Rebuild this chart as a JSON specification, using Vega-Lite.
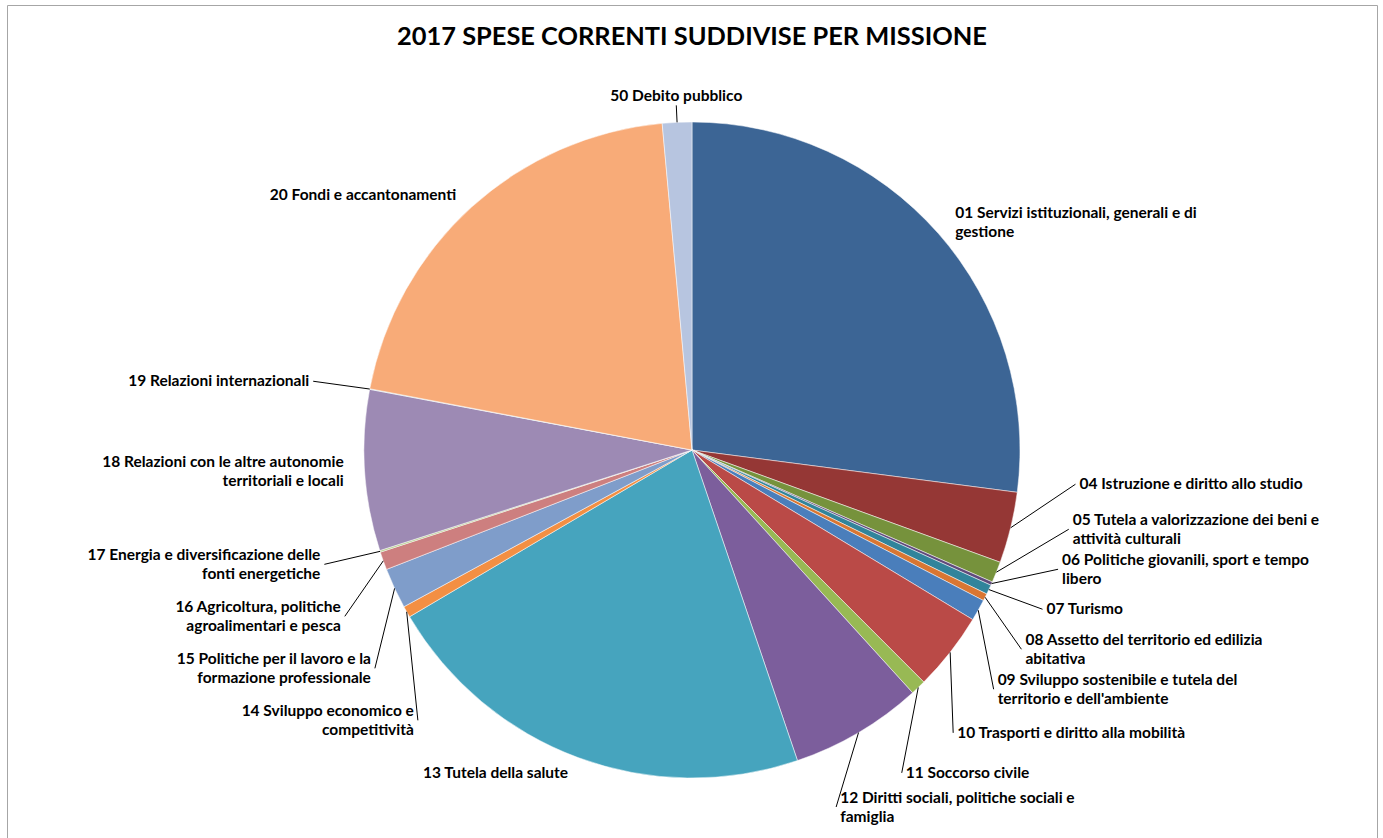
{
  "$schema": "https://vega.github.io/schema/vega-lite/v6.json",
  "width": 1370,
  "height": 890,
  "autosize": "none",
  "padding": {"left": 7, "top": 5, "right": 6, "bottom": 0},
  "background": "white",
  "title": {
    "text": "2017 SPESE CORRENTI SUDDIVISE PER MISSIONE",
    "font": "Lato",
    "fontSize": 25.4,
    "fontWeight": "bold",
    "color": "black",
    "anchor": "middle",
    "frame": "group",
    "baseline": "alphabetic",
    "offset": 0,
    "dy": 65
  },
  "data": {
    "values": [
      {"k": 1, "missione": "01 Servizi istituzionali, generali e di\ngestione", "valore": 27.06},
      {"k": 4, "missione": "04 Istruzione e diritto allo studio", "valore": 3.50},
      {"k": 5, "missione": "05 Tutela a valorizzazione dei beni e\nattività culturali", "valore": 1.03},
      {"k": 6, "missione": "06 Politiche giovanili, sport e tempo\nlibero", "valore": 0.17},
      {"k": 7, "missione": "07 Turismo", "valore": 0.47},
      {"k": 8, "missione": "08 Assetto del territorio ed edilizia\nabitativa", "valore": 0.36},
      {"k": 9, "missione": "09 Sviluppo sostenibile e tutela del\nterritorio e dell'ambiente", "valore": 1.06},
      {"k": 10, "missione": "10 Trasporti e diritto alla mobilità", "valore": 3.86},
      {"k": 11, "missione": "11 Soccorso civile", "valore": 0.75},
      {"k": 12, "missione": "12 Diritti sociali, politiche sociali e\nfamiglia", "valore": 6.53},
      {"k": 13, "missione": "13 Tutela della salute", "valore": 21.72},
      {"k": 14, "missione": "14 Sviluppo economico e\ncompetitività", "valore": 0.56},
      {"k": 15, "missione": "15 Politiche per il lavoro e la\nformazione professionale", "valore": 2.00},
      {"k": 16, "missione": "16 Agricoltura, politiche\nagroalimentari e pesca", "valore": 0.89},
      {"k": 17, "missione": "17 Energia e diversificazione delle\nfonti energetiche", "valore": 0.08},
      {"k": 18, "missione": "18 Relazioni con le altre autonomie\nterritoriali e locali", "valore": 7.92},
      {"k": 19, "missione": "19 Relazioni internazionali", "valore": 0.03},
      {"k": 20, "missione": "20 Fondi e accantonamenti", "valore": 20.56},
      {"k": 50, "missione": "50 Debito pubblico", "valore": 1.45}
    ]
  },
  "transform": [
    {"joinaggregate": [{"op": "sum", "field": "valore", "as": "tot"}]},
    {"window": [{"op": "sum", "field": "valore", "as": "cum"}], "sort": [{"field": "k"}], "frame": [null, 0]},
    {"calculate": "2 * PI * (datum.cum - datum.valore / 2) / datum.tot", "as": "mid"},
    {"calculate": "abs(sin(datum.mid)) < 0.2 ? 'c' : (datum.mid < PI ? 'r' : 'l')", "as": "lato"},
    {"calculate": "datum.valore < 7 ? 370 : 345", "as": "ry"},
    {"calculate": "datum.valore < 7 ? 385 : 345", "as": "rx"},
    {"calculate": "datum.ry * cos(datum.mid)", "as": "y0"},
    {"window": [{"op": "row_number", "as": "i"}], "groupby": ["lato"], "sort": [{"field": "mid"}]},
    {"calculate": "datum.lato == 'r' ? 40 : 52", "as": "gap"},
    {"calculate": "datum.lato == 'r' ? datum.y0 + datum.i * datum.gap : datum.y0 - datum.i * datum.gap", "as": "u"},
    {"window": [{"op": "min", "field": "u", "as": "fmin"}], "groupby": ["lato"], "sort": [{"field": "mid"}], "frame": [null, 0]},
    {"window": [{"op": "max", "field": "u", "as": "bmax"}, {"op": "min", "field": "u", "as": "bmin"}], "groupby": ["lato"], "sort": [{"field": "mid"}], "frame": [0, null]},
    {"calculate": "max(-357, datum.lato == 'r' ? (datum.fmin + datum.bmax) / 2 - datum.i * datum.gap : (datum.lato == 'l' ? datum.bmin + datum.i * datum.gap : 345 * cos(datum.mid)))", "as": "ly"},
    {"calculate": "datum.lato == 'c' ? 345 * sin(datum.mid) : (datum.lato == 'r' ? 1 : -1) * sqrt(max(datum.rx * datum.rx - datum.ly * datum.ly, 0))", "as": "lx"},
    {"calculate": "datum.ly + (indexof(datum.missione, '\\n') >= 0 ? 9.5 : 0)", "as": "lt"},
    {"calculate": "328 * sin(datum.mid)", "as": "sx"},
    {"calculate": "328 * cos(datum.mid)", "as": "sy"}
  ],
  "layer": [
    {
      "mark": {"type": "arc", "outerRadius": 328, "stroke": "white", "strokeWidth": 0.5},
      "encoding": {
        "theta": {"field": "valore", "type": "quantitative", "stack": true},
        "order": {"field": "k", "type": "quantitative"},
        "color": {
          "field": "missione",
          "type": "nominal",
          "sort": null,
          "legend": null,
          "scale": {
            "domain": [
              "01 Servizi istituzionali, generali e di\ngestione",
              "04 Istruzione e diritto allo studio",
              "05 Tutela a valorizzazione dei beni e\nattività culturali",
              "06 Politiche giovanili, sport e tempo\nlibero",
              "07 Turismo",
              "08 Assetto del territorio ed edilizia\nabitativa",
              "09 Sviluppo sostenibile e tutela del\nterritorio e dell'ambiente",
              "10 Trasporti e diritto alla mobilità",
              "11 Soccorso civile",
              "12 Diritti sociali, politiche sociali e\nfamiglia",
              "13 Tutela della salute",
              "14 Sviluppo economico e\ncompetitività",
              "15 Politiche per il lavoro e la\nformazione professionale",
              "16 Agricoltura, politiche\nagroalimentari e pesca",
              "17 Energia e diversificazione delle\nfonti energetiche",
              "18 Relazioni con le altre autonomie\nterritoriali e locali",
              "19 Relazioni internazionali",
              "20 Fondi e accantonamenti",
              "50 Debito pubblico"
            ],
            "range": [
              "#3c6595", "#953735", "#76923c", "#604a7b", "#31849b", "#d97632",
              "#4a7ebb", "#ba4a47", "#98b954", "#7c5e9c", "#46a4be", "#f38f43",
              "#7f9dca", "#cd7f7f", "#b4cb88", "#9d8ab4", "#7cc4d8", "#f8ab78",
              "#b7c5e0"
            ]
          }
        }
      }
    },
    {
      "transform": [{"filter": "datum.valore < 7"}],
      "mark": {"type": "rule", "color": "black", "strokeWidth": 1},
      "encoding": {
        "x": {"field": "sx", "type": "quantitative", "axis": null, "scale": {"domain": [-685, 685], "nice": false, "zero": false}},
        "y": {"field": "sy", "type": "quantitative", "axis": null, "scale": {"domain": [-445, 445], "nice": false, "zero": false}},
        "x2": {"field": "lx"},
        "y2": {"field": "ly"}
      }
    },
    {
      "transform": [{"filter": "datum.lato == 'r'"}],
      "mark": {"type": "text", "align": "left", "baseline": "middle", "dx": 4, "font": "Lato", "fontSize": 15.5, "fontWeight": "bold", "color": "black", "lineBreak": "\n", "lineHeight": 19},
      "encoding": {
        "x": {"field": "lx", "type": "quantitative", "axis": null, "scale": {"domain": [-685, 685], "nice": false, "zero": false}},
        "y": {"field": "lt", "type": "quantitative", "axis": null, "scale": {"domain": [-445, 445], "nice": false, "zero": false}},
        "text": {"field": "missione"}
      }
    },
    {
      "transform": [{"filter": "datum.lato == 'l'"}],
      "mark": {"type": "text", "align": "right", "baseline": "middle", "dx": -4, "font": "Lato", "fontSize": 15.5, "fontWeight": "bold", "color": "black", "lineBreak": "\n", "lineHeight": 19},
      "encoding": {
        "x": {"field": "lx", "type": "quantitative", "axis": null, "scale": {"domain": [-685, 685], "nice": false, "zero": false}},
        "y": {"field": "lt", "type": "quantitative", "axis": null, "scale": {"domain": [-445, 445], "nice": false, "zero": false}},
        "text": {"field": "missione"}
      }
    },
    {
      "transform": [{"filter": "datum.lato == 'c'"}],
      "mark": {"type": "text", "align": "center", "baseline": "bottom", "dy": -1, "font": "Lato", "fontSize": 15.5, "fontWeight": "bold", "color": "black", "lineBreak": "\n", "lineHeight": 19},
      "encoding": {
        "x": {"field": "lx", "type": "quantitative", "axis": null, "scale": {"domain": [-685, 685], "nice": false, "zero": false}},
        "y": {"field": "ly", "type": "quantitative", "axis": null, "scale": {"domain": [-445, 445], "nice": false, "zero": false}},
        "text": {"field": "missione"}
      }
    }
  ],
  "config": {
    "view": {"stroke": "#a6a6a6", "strokeWidth": 1}
  }
}
